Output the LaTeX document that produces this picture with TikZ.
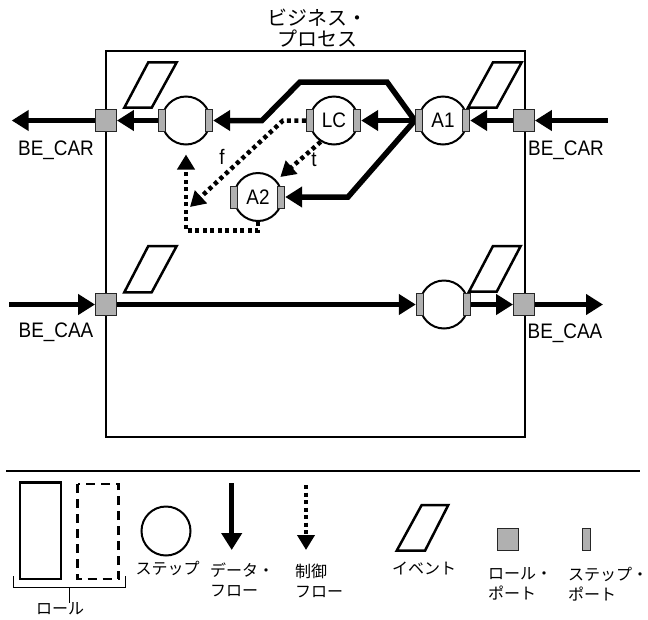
\documentclass[tikz,border=0pt]{standalone}
\usepackage{fontspec}
\setmainfont{Liberation Sans}[FakeStretch=0.9]
\newfontfamily\jp{Noto Sans CJK JP}
\usetikzlibrary{arrows.meta,backgrounds}
\definecolor{portgray}{RGB}{176,176,176}
\begin{document}
\begin{tikzpicture}[x=1pt,y=-1pt,
  rport/.style={draw=black!85,line width=0.9pt,fill=portgray,rectangle,minimum width=21pt,minimum height=22pt,inner sep=0pt},
  sport/.style={draw=black!85,line width=0.9pt,fill=portgray,rectangle,minimum width=7.5pt,minimum height=22pt,inner sep=0pt},
  stepc/.style={draw,circle,line width=2pt,fill=white,minimum size=48pt,inner sep=0pt,font=\fontsize{21}{22}\selectfont},
  dflow/.style={line width=5.5pt,-{Triangle[length=17pt,width=20pt]}},
  cflow/.style={line width=4.5pt,dash pattern=on 4pt off 3.5pt,-{Triangle[length=15pt,width=17pt]}},
  evt/.style={line width=2.5pt,line join=miter},
  lbl/.style={font=\fontsize{21}{22}\selectfont,inner sep=0pt},
  jl/.style={font=\jp\fontsize{16}{20}\selectfont,inner sep=0pt,align=left},
]
\useasboundingbox (0,0) rectangle (648,619);

% title
\node[font=\jp\fontsize{20}{21}\selectfont,align=center,anchor=north,inner sep=0pt] (title) at (317,8.5) {ビジネス・\\プロセス};

% role ports
\node[rport] (rl1) at (106,120.5) {};
\node[rport] (rr1) at (524,120.5) {};
\node[rport] (rl2) at (106,304.5) {};
\node[rport] (rr2) at (524,304.5) {};

% steps
\node[stepc] (s1) at (186,120.5) {};
\node[stepc] (lc) at (334,120.5) {LC};
\node[stepc] (a1) at (443,120.5) {A1};
\node[stepc] (a2) at (258,197) {A2};
\node[stepc] (s2) at (444,304.5) {};

% step ports
\node[sport] (s1l) at ([xshift=1pt]s1.west) {};
\node[sport] (s1r) at ([xshift=-2pt]s1.east) {};
\node[sport] (lcl) at ([xshift=1pt]lc.west) {};
\node[sport] (lcr) at ([xshift=-2pt]lc.east) {};
\node[sport] (a1l) at ([xshift=1pt]a1.west) {};
\node[sport] (a1r) at ([xshift=-2pt]a1.east) {};
\node[sport] (a2l) at ([xshift=1pt]a2.west) {};
\node[sport] (a2r) at ([xshift=-2pt]a2.east) {};
\node[sport] (s2l) at ([xshift=1pt]s2.west) {};
\node[sport] (s2r) at ([xshift=-2pt]s2.east) {};

% events
\draw[evt] (124.3,107.7) -- (151.7,107.7) -- (176.7,62.3) -- (148.3,62.3) -- cycle;
\draw[evt] (468,107.7) -- (496.7,107.7) -- (521.7,62.3) -- (493,62.3) -- cycle;
\draw[evt] (124.3,292.3) -- (151.7,292.3) -- (176.7,246) -- (148.3,246) -- cycle;
\draw[evt] (469,291.7) -- (496.7,291.7) -- (520.7,246) -- (493,246) -- cycle;

% free ends
\coordinate (outl1) at (11.7,120.5);
\coordinate (inr1) at (608,120.5);
\coordinate (inl2) at (9,304.5);
\coordinate (outr2) at (603,304.5);
\coordinate (fend) at (190,207);

\begin{scope}[on background layer]
\draw[line width=2pt] (106,51) rectangle (525,437);
% data flows
\draw[dflow] (rl1.west) -- (outl1);
\draw[dflow] (s1l.west) -- (rl1.east);
\draw[dflow] (inr1) -- (rr1.east);
\draw[dflow] (rr1.west) -- (a1r.east);
\draw[dflow] (a1l.west) -- (lcr.east);
\draw[dflow] (a1l.west) -- (387,82) -- (300,82) -- (262,120.5) -- (s1r.east);
\draw[dflow] (a1l.west) -- (348,197) -- (a2r.east);
\draw[dflow] (inl2) -- (rl2.west);
\draw[dflow] (rl2.east) -- (s2l.west);
\draw[dflow] (s2r.east) -- (rr2.west);
\draw[dflow] (rr2.east) -- (outr2);
% control flows
\draw[cflow] (lcl.west) -- (283,120.5) -- (fend);
\draw[cflow,shorten >=5pt] (lc.238) -- (a2.42);
\draw[cflow,shorten >=9pt] (a2.south) -- ++(0,8.5) -| (s1.south);
\end{scope}

% labels
\node[lbl,anchor=base] (becar1) at (56,155) {BE\_CAR};
\node[lbl,anchor=base] (becar2) at (566,155) {BE\_CAR};
\node[lbl,anchor=base] (becaa1) at (56,337) {BE\_CAA};
\node[lbl,anchor=base] (becaa2) at (565,338) {BE\_CAA};
\node[lbl] (flbl) at (222,157) {f};
\node[lbl] (tlbl) at (314,160) {t};

% legend
\draw[line width=1.5pt] (6,471) -- (640,471);
\draw[line width=2.5pt] (20,482.5) rectangle (61,579);
\draw[line width=2.5pt,dash pattern=on 9pt off 6pt] (77.5,484) rectangle (118.5,579);
\draw[line width=0.9pt] (13.5,576) -- (13.5,587.5) -- (125,587.5) -- (125,576) (69,587.5) -- (69,603);
\node[jl,anchor=north] (lgrole) at (60,602) {ロール};

\node[stepc,minimum size=49pt] (lgstep) at (166,531) {};
\node[jl,anchor=north] (lgsteptxt) at (167.5,561) {ステップ};

\coordinate (lgd1) at (231.7,483);
\coordinate (lgd2) at (231.7,550);
\draw[dflow] (lgd1) -- (lgd2);
\node[jl,anchor=north west] (lgdtxt) at (210,563) {データ・\\フロー};

\coordinate (lgc1) at (306,485);
\coordinate (lgc2) at (306,550);
\draw[cflow] (lgc1) -- (lgc2);
\node[jl,anchor=north west] (lgctxt) at (295,564) {制御\\フロー};

\draw[evt] (396.7,550.7) -- (425,550.7) -- (448.3,505) -- (421.7,505) -- cycle;
\node[jl,anchor=north] (lgevt) at (424,562) {イベント};

\node[rport] (lgrport) at (507.5,539) {};
\node[jl,anchor=north west] (lgrptxt) at (488,567) {ロール・\\ポート};

\node[sport] (lgsport) at (586.5,539) {};
\node[jl,anchor=north west] (lgsptxt) at (568,567) {ステップ・\\ポート};
\end{tikzpicture}
\end{document}
